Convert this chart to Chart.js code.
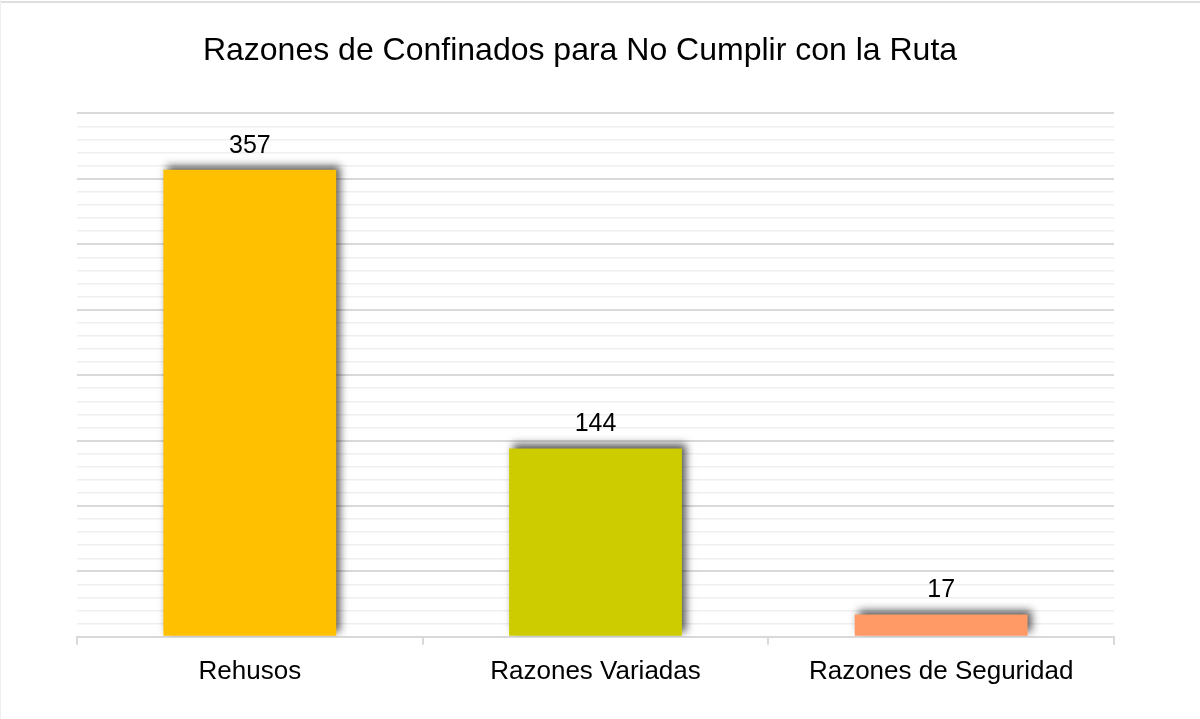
<!DOCTYPE html>
<html>
<head>
<meta charset="utf-8">
<script src="https://cdn.jsdelivr.net/npm/chart.js@4.4.1/dist/chart.umd.min.js"></script>
<style>
html,body{margin:0;padding:0;background:#ffffff;}
#wrap{position:relative;width:1200px;height:719px;overflow:hidden;background:#ffffff;}
#c{position:absolute;left:0;top:0;}
.bt{position:absolute;left:0;top:1px;width:1200px;height:2px;background:#dedede;}
.bl{position:absolute;left:0;top:0;width:1px;height:719px;background:#eeeeee;}
</style>
</head>
<body>
<div id="wrap">
<canvas id="c" width="1200" height="719"></canvas>
<div class="bt"></div><div class="bl"></div>
</div>
<script>
const chartTitle = 'Razones de Confinados para No Cumplir con la Ruta';
const categories = ['Rehusos', 'Razones Variadas', 'Razones de Seguridad'];
const values = [357, 144, 17];
const barColors = ['#FFC000', '#CCCC00', '#FF9966'];
const yMin = 0;
const yMax = 400;
const yStep = 10;
const yMajorStep = 50;

const FONT = "'Liberation Sans', Arial, sans-serif";

const shadowPlugin = {
  id: 'barShadow',
  beforeDatasetDraw(chart) {
    const ctx = chart.ctx;
    ctx.save();
    ctx.shadowColor = 'rgba(0,0,0,0.65)';
    ctx.shadowBlur = 8;
    ctx.shadowOffsetX = 4;
    ctx.shadowOffsetY = -4;
  },
  afterDatasetDraw(chart) {
    chart.ctx.restore();
  }
};

const labelPlugin = {
  id: 'valueLabels',
  afterDatasetsDraw(chart) {
    const ctx = chart.ctx;
    const meta = chart.getDatasetMeta(0);
    const data = chart.data.datasets[0].data;
    ctx.save();
    ctx.font = '25px ' + FONT;
    ctx.fillStyle = '#000000';
    ctx.textAlign = 'center';
    ctx.textBaseline = 'middle';
    meta.data.forEach((bar, i) => {
      ctx.fillText(String(data[i]), bar.x, bar.y - 24);
    });
    ctx.restore();
  }
};

new Chart(document.getElementById('c'), {
  type: 'bar',
  data: {
    labels: categories,
    datasets: [{
      data: values,
      backgroundColor: barColors,
      borderWidth: 0,
      categoryPercentage: 1,
      barPercentage: 0.5
    }]
  },
  options: {
    responsive: false,
    animation: false,
    devicePixelRatio: 1,
    layout: { padding: { left: 0, right: 40, top: 0, bottom: 21 } },
    plugins: {
      legend: { display: false },
      tooltip: { enabled: false },
      title: {
        display: true,
        text: chartTitle,
        color: '#000000',
        font: { family: FONT, size: 32, weight: 'normal' },
        padding: { top: 32, bottom: 43 }
      }
    },
    scales: {
      x: {
        grid: {
          display: true,
          drawOnChartArea: false,
          drawTicks: true,
          tickLength: 8,
          color: '#d9d9d9',
          lineWidth: 2,
          offset: true
        },
        border: { display: true, color: '#d9d9d9', width: 2 },
        ticks: {
          color: '#000000',
          font: { family: FONT, size: 26 },
          padding: 11,
          maxRotation: 0,
          autoSkip: false
        }
      },
      y: {
        min: yMin,
        max: yMax,
        ticks: { display: false, stepSize: yStep },
        grid: {
          drawTicks: false,
          color: (c) => (c.tick && c.tick.value % yMajorStep === 0) ? '#d9d9d9' : '#efefef',
          lineWidth: (c) => (c.tick && c.tick.value % yMajorStep === 0) ? 2 : 1.5
        },
        border: { display: false },
        afterFit(s) { s.width = 77; }
      },
      y2: {
        position: 'right',
        min: yMin,
        max: yMax,
        ticks: { display: false },
        grid: { display: false },
        border: { display: false },
        afterFit(s) { s.width = 46; }
      }
    }
  },
  plugins: [shadowPlugin, labelPlugin]
});
</script>
</body>
</html>
